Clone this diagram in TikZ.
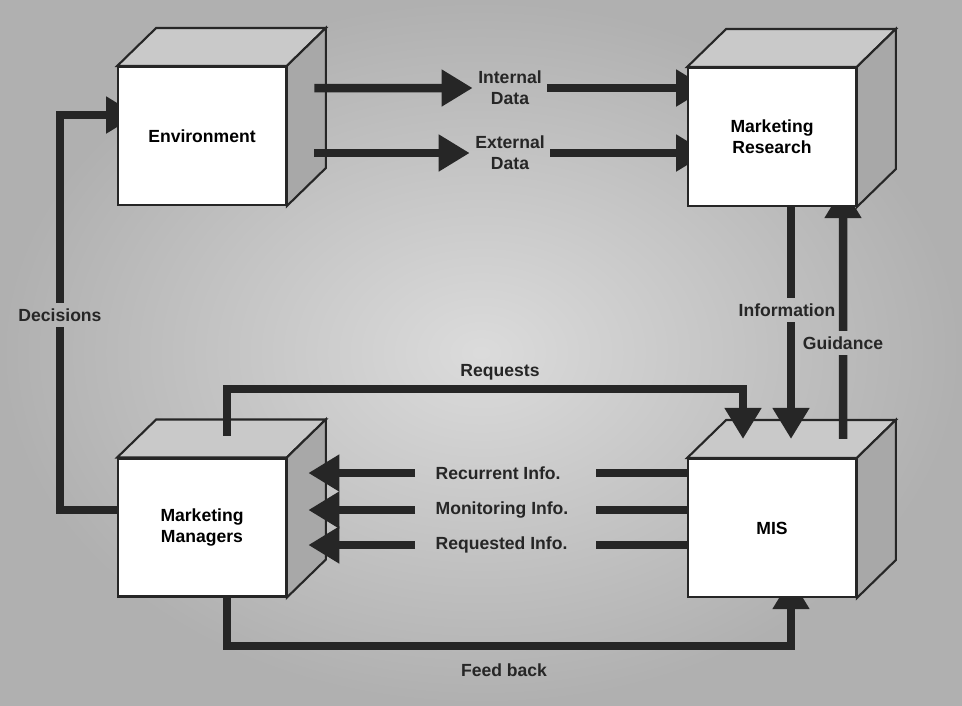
\documentclass[tikz,border=0pt]{standalone}
\usepackage{fontspec}
\setmainfont{Liberation Sans}
\usetikzlibrary{arrows.meta, calc, positioning}
\pgfdeclarelayer{behind}
\pgfsetlayers{behind,main}

\begin{document}
\begin{tikzpicture}[
    box/.style={rectangle, draw=black!85, line width=1.2pt, fill=white, minimum width=3.35cm, minimum height=2.76cm, font=\bfseries, align=center},
    lbl/.style={font=\bfseries, align=center, text=black!85, inner sep=3pt},
    flow/.style={line width=0.17cm, draw=black!85},
    arr/.style={flow, -{Triangle[length=0.62cm, width=0.7cm]}},
    topface/.style={draw=black!85, line width=1.2pt, fill=gray!42},
    sideface/.style={draw=black!85, line width=1.2pt, fill=gray!68}
]
    \useasboundingbox (0,0) rectangle (19.24,-14.1);

    \node[box] (env) at (4.04,-2.72) {Environment};
    \node[box] (mr) at (15.44,-2.74) {Marketing\\Research};
    \node[box] (mm) at (4.04,-10.55) {Marketing\\Managers};
    \node[box] (mis) at (15.44,-10.56) {MIS};

    \foreach \n in {env,mr,mm,mis} {
        \draw[topface] (\n.north west) -- ++(0.78,0.76) -- ($(\n.north east)+(0.78,0.76)$) -- (\n.north east) -- cycle;
        \draw[sideface] (\n.north east) -- ++(0.78,0.76) -- ($(\n.south east)+(0.78,0.76)$) -- (\n.south east) -- cycle;
    }

    \node[lbl] (intdata) at (10.2,-1.76) {Internal\\Data};
    \node[lbl] (extdata) at (10.2,-3.06) {External\\Data};
    \node[lbl] (dec) at (1.2,-6.3) {Decisions};
    \node[lbl] (info) at (15.74,-6.2) {Information};
    \node[lbl] (guid) at (16.86,-6.86) {Guidance};
    \node[lbl] (req) at (10.0,-7.44) {Requests};
    \node[lbl, anchor=west] (rec) at (8.6,-9.46) {Recurrent Info.};
    \node[lbl, anchor=west] (mon) at (8.6,-10.2) {Monitoring Info.};
    \node[lbl, anchor=west] (reqi) at (8.6,-10.9) {Requested Info.};
    \node[lbl] (fb) at (10.08,-13.4) {Feed back};

    \coordinate (mmtop) at ($(mm.north)+(0.5,0.43)$);
    \coordinate (mmside) at ($(mm.east)+(0.43,0)$);

    % tips that go in behind the front faces
    \begin{pgfonlayer}{behind}
        \shade[inner color=gray!28, outer color=gray!62] (0,0) rectangle (19.24,-14.1);
        \draw[arr] (intdata.east) -- ($(intdata.east -| mr.west)+(0.4,0)$);
        \draw[arr] (extdata.east) -- ($(extdata.east -| mr.west)+(0.4,0)$);
        \draw[arr] (dec.north) |- ($(env.west)+(0.4,0.42)$);
        \draw[arr] (guid.north) -- ($(mr.south)+(1.42,0.4)$);
        \draw[arr] ([xshift=0.5cm]mm.south) -- ++(0,-0.97) -| ($(mis.south)+(0.38,0.4)$);
    \end{pgfonlayer}

    \draw[arr] ($(env.east)+(0.55,0.96)$) -- (intdata.west);
    \draw[arr] ($(env.east)+(0.55,-0.34)$) -- (extdata.west);
    \draw[flow] ([yshift=0.35cm]mm.west) -| (dec.south);
    \draw[flow] ([xshift=0.38cm]mr.south) -- ([xshift=0.38cm]mr.south |- info.north);
    \draw[arr] ([xshift=0.38cm]mr.south |- info.south) -- ($(mis.north)+(0.38,0.38)$);
    \draw[flow] ($(mis.north)+(1.42,0.38)$) -- (guid.south);
    \draw[arr] (mmtop) -- ++(0,0.94) -| ($(mis.north)+(-0.58,0.38)$);

    \draw[flow] (mis.west |- rec.west) -- ++(-1.83,0);
    \draw[flow] (mis.west |- mon.west) -- ++(-1.83,0);
    \draw[flow] (mis.west |- reqi.west) -- ++(-1.83,0);
    \draw[arr] ([xshift=-0.3cm]rec.west) -- (rec.west -| mmside);
    \draw[arr] ([xshift=-0.3cm]mon.west) -- (mon.west -| mmside);
    \draw[arr] ([xshift=-0.3cm]reqi.west) -- (reqi.west -| mmside);
\end{tikzpicture}
\end{document}
